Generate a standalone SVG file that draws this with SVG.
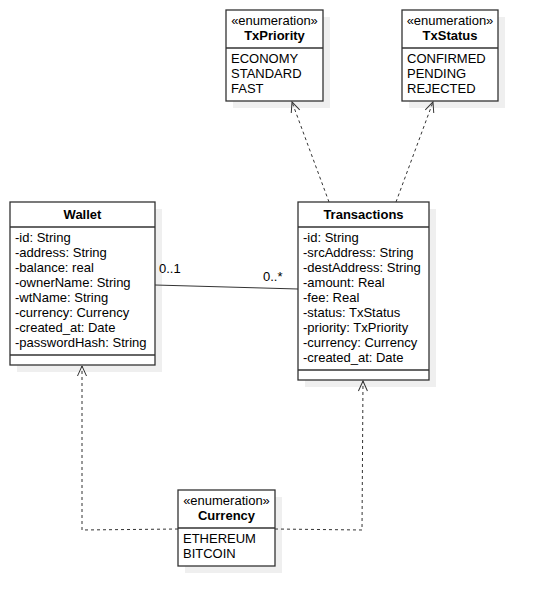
<svg xmlns="http://www.w3.org/2000/svg" width="539" height="606" viewBox="0 0 539 606">
<defs>
<style>
text{font-family:"Liberation Sans",Arial,sans-serif;font-size:13px;fill:#000}
.b{font-weight:bold}
.m{text-anchor:middle}
.box{fill:#fff;stroke:#333;stroke-width:1.3}
.sh{fill:#efefef}
.div{stroke:#333;stroke-width:1.3}
.edge{fill:none;stroke:#333;stroke-width:1}
.dash{stroke-dasharray:3 3}
.head{fill:none;stroke:#333;stroke-width:1;stroke-dasharray:none}
</style>
<marker id="open" viewBox="0 0 12 12" refX="11" refY="6" markerWidth="12" markerHeight="12" markerUnits="userSpaceOnUse" orient="auto">
<path class="head" d="M1,1.5 L11,6 L1,10.5"/>
</marker>
</defs>
<rect width="539" height="606" fill="#fff"/>

<g id="TxPriority">
<rect class="sh" x="233" y="17" width="97" height="91"/>
<rect class="box" x="226" y="10" width="97" height="91"/>
<line class="div" x1="226" y1="48" x2="323" y2="48"/>
<text class="m" x="274.5" y="25">«enumeration»</text>
<text class="m b" x="274.5" y="40">TxPriority</text>
<text x="231" y="63">ECONOMY</text>
<text x="231" y="78">STANDARD</text>
<text x="231" y="93">FAST</text>
</g>

<g id="TxStatus">
<rect class="sh" x="409" y="17" width="96" height="91"/>
<rect class="box" x="402" y="10" width="96" height="91"/>
<line class="div" x1="402" y1="48" x2="498" y2="48"/>
<text class="m" x="450" y="25">«enumeration»</text>
<text class="m b" x="450" y="40">TxStatus</text>
<text x="407" y="63">CONFIRMED</text>
<text x="407" y="78">PENDING</text>
<text x="407" y="93">REJECTED</text>
</g>

<g id="Wallet">
<rect class="sh" x="17" y="209" width="145" height="163"/>
<rect class="box" x="10" y="202" width="145" height="163"/>
<line class="div" x1="10" y1="227" x2="155" y2="227"/>
<line class="div" x1="10" y1="355" x2="155" y2="355"/>
<text class="m b" x="82.5" y="219">Wallet</text>
<text x="15" y="242">-id: String</text>
<text x="15" y="257">-address: String</text>
<text x="15" y="272">-balance: real</text>
<text x="15" y="287">-ownerName: String</text>
<text x="15" y="302">-wtName: String</text>
<text x="15" y="317">-currency: Currency</text>
<text x="15" y="332">-created_at: Date</text>
<text x="15" y="347">-passwordHash: String</text>
</g>

<g id="Transactions">
<rect class="sh" x="305" y="209" width="131" height="178"/>
<rect class="box" x="298" y="202" width="131" height="178"/>
<line class="div" x1="298" y1="227" x2="429" y2="227"/>
<line class="div" x1="298" y1="370" x2="429" y2="370"/>
<text class="m b" x="363.5" y="219">Transactions</text>
<text x="303" y="242">-id: String</text>
<text x="303" y="257">-srcAddress: String</text>
<text x="303" y="272">-destAddress: String</text>
<text x="303" y="287">-amount: Real</text>
<text x="303" y="302">-fee: Real</text>
<text x="303" y="317">-status: TxStatus</text>
<text x="303" y="332">-priority: TxPriority</text>
<text x="303" y="347">-currency: Currency</text>
<text x="303" y="362">-created_at: Date</text>
</g>

<g id="Currency">
<rect class="sh" x="185" y="497" width="97" height="76"/>
<rect class="box" x="178" y="490" width="97" height="76"/>
<line class="div" x1="178" y1="528" x2="275" y2="528"/>
<text class="m" x="226.5" y="505">«enumeration»</text>
<text class="m b" x="226.5" y="520">Currency</text>
<text x="183" y="543">ETHEREUM</text>
<text x="183" y="558">BITCOIN</text>
</g>

<g id="connectors">
<path class="edge" d="M155,285 L298,289"/>
<text x="159" y="273">0..1</text>
<text x="263" y="281">0..*</text>
<path class="edge dash" d="M329,202 L292,102" marker-end="url(#open)"/>
<path class="edge dash" d="M396,202 L433,102" marker-end="url(#open)"/>
<path class="edge dash" d="M178,529 L82,530 L82,366" marker-end="url(#open)"/>
<path class="edge dash" d="M275,529 L362,530 L363,381" marker-end="url(#open)"/>
</g>
</svg>
